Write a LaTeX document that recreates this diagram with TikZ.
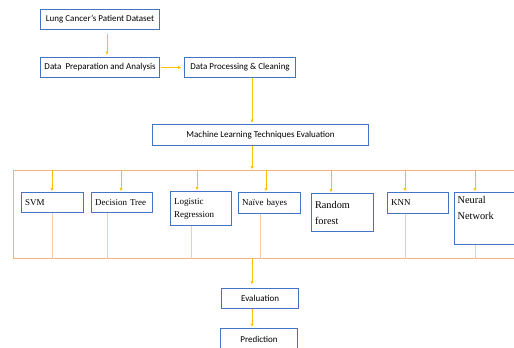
\documentclass[tikz,border=0pt]{standalone}
\usepackage{fontspec}
\setmainfont{Carlito}
\newfontfamily\tms{Liberation Serif}
\usetikzlibrary{arrows.meta}
\definecolor{bluebd}{RGB}{68,114,196}
\definecolor{orng}{RGB}{244,177,131}
\definecolor{lorng}{RGB}{248,203,173}
\definecolor{gold}{RGB}{255,192,0}
\begin{document}
\begin{tikzpicture}[x=1pt,y=-1pt,
  bx/.style={draw=bluebd, line width=1.1pt, anchor=north west, inner sep=0pt, font=\fontsize{9}{11}\selectfont},
  sbx/.style={draw=bluebd, line width=1.1pt, anchor=north west, inner xsep=3.5pt, inner ysep=0pt, align=left, font=\tms\fontsize{9}{13}\selectfont},
  arr/.style={draw=gold, line width=0.7pt, -{Triangle[length=3pt,width=3pt]}},
  dline/.style={draw=lorng, line width=0.7pt}]
\useasboundingbox (0,0) rectangle (514,348);
\clip (0,0) rectangle (514,348);
\coordinate (sp) at (252,0);
% top chain
\node[bx, minimum width=119, minimum height=20] (ds) at (40,9) {Lung Cancer’s Patient Dataset};
\node[bx, minimum width=119, minimum height=20] (prep) at (40,57) {Data\ \ Preparation and Analysis};
\node[bx, minimum width=111, minimum height=20] (proc) at (184,57) {Data Processing \& Cleaning};
\node[bx, minimum width=216, minimum height=21] (ml) at (152,124) {Machine Learning Techniques Evaluation};
% frame
\node[draw=orng, line width=0.9pt, minimum width=507, minimum height=88, anchor=north west, inner sep=0pt] (frame) at (13,170) {};
% techniques
\node[sbx, minimum width=62, minimum height=20, text width=55] (svm) at (21,192) {SVM};
\node[sbx, minimum width=61, minimum height=20, text width=54] (dt) at (91,192) {Decision Tree};
\node[sbx, minimum width=61, minimum height=34, text width=54] (lr) at (170,191) {Logistic\\Regression};
\node[sbx, minimum width=62, minimum height=21, text width=55] (nb) at (238,192) {Naïve bayes};
\node[sbx, minimum width=62, minimum height=38, text width=55, font=\tms\fontsize{10.3}{16}\selectfont] (rf) at (311,193) {Random\\forest};
\node[sbx, minimum width=61, minimum height=21, text width=54] (knn) at (387,192) {KNN};
\node[draw=bluebd, line width=1.1pt, anchor=north west, inner sep=0pt, minimum width=64, minimum height=52,
  label={[anchor=north west, inner xsep=3.5pt, inner ysep=4pt, align=left, font=\tms\fontsize{10.3}{16}\selectfont]north west:Neural\\Network}] (nn) at (454,192) {};
% bottom
\node[bx, minimum width=77, minimum height=20] (eval) at (221,288) {Evaluation};
\node[bx, minimum width=77, minimum height=24, text depth=2pt] (pred) at (220,328) {Prediction};
% connectors
\draw[arr, shorten <=4pt, shorten >=2.5pt] (ds.south -| 107,0) -- (prep.north -| 107,0);
\draw[arr, shorten <=1pt, shorten >=3pt] (prep.east) -- (proc.west);
\draw[arr, shorten >=1.5pt] (proc.south -| sp) -- (ml.north -| sp);
\draw[arr, shorten >=1pt] (ml.south -| sp) -- (frame.north -| sp);
\draw[arr, shorten >=4pt] (frame.south -| sp) -- (eval.north -| sp);
\draw[arr, shorten >=1.5pt] (eval.south -| sp) -- (pred.north -| sp);
\foreach \b/\xa in {svm/52, dt/121, lr/197, nb/266, rf/331, knn/405, nn/475}
  \draw[arr, shorten >=1pt] (frame.north -| \xa,0) -- (\b.north -| \xa,0);
\foreach \b/\xd in {svm/52, dt/107, lr/191, nb/260, knn/405, nn/475}
  \draw[dline] (\b.south -| \xd,0) -- (frame.south -| \xd,0);
\end{tikzpicture}
\end{document}
